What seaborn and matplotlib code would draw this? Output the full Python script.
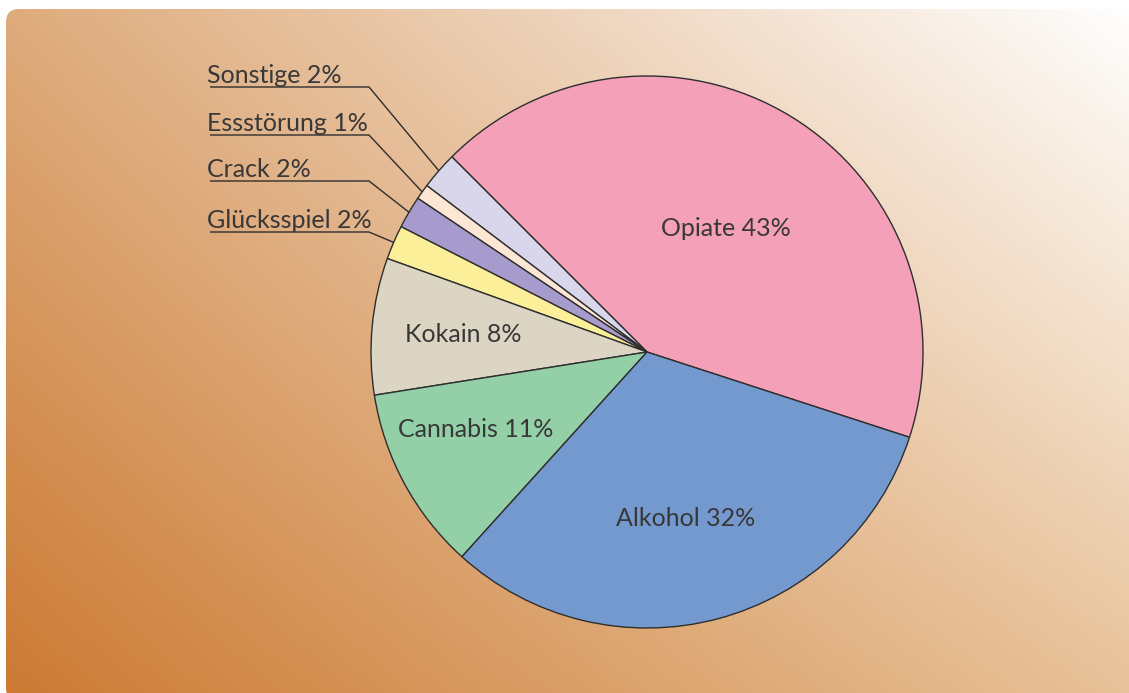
"""Suchtberatung: Hauptdiagnosen als Tortendiagramm."""
import matplotlib
matplotlib.use("Agg")
import matplotlib.pyplot as plt
from matplotlib.colors import to_rgb
from matplotlib.patches import FancyBboxPatch
import numpy as np
import seaborn as sns

# ── data ─────────────────────────────────────────────────────────────────────
categories = ["Opiate", "Sonstige", "Essstörung", "Crack",
              "Glücksspiel", "Kokain", "Cannabis", "Alkohol"]
shares     = [42.5, 2.2, 0.9, 1.9, 2.0, 8.0, 10.8, 31.7]   # slice sizes
shown_pct  = [43, 2, 1, 2, 2, 8, 11, 32]                    # printed labels
outside    = ["Sonstige", "Essstörung", "Crack", "Glücksspiel"]

# ── style ────────────────────────────────────────────────────────────────────
sns.set_style("white")
plt.rcParams["font.family"] = ["Lato", "DejaVu Sans"]

COLORS = ["#f4a0b8", "#d9d6ec", "#fde7d4", "#a79bcd",
          "#fbef9a", "#dcd5c3", "#93cfa7", "#7499cf"]
TEXT   = "#383838"
W, H   = 1129, 693
CX, CY, R = 647, H - 352, 276

# inside labels: fraction of radius + small angle shift
INSIDE_POS = {"Opiate": (0.53, -1), "Kokain": (0.67, 0),
              "Cannabis": (0.68, -4), "Alkohol": (0.62, -2)}

fig = plt.figure(figsize=(W / 100, H / 100), dpi=100)
fig.patch.set_facecolor("white")

# ── gradient background (bilinear between corner colours) ───────────────────
bg = fig.add_axes([0, 0, 1, 1])
bg.set_xlim(0, W); bg.set_ylim(0, H); bg.axis("off")
bl, tl, br, tr = (np.array(to_rgb(c)) for c in
                  ("#cc7a33", "#deab7c", "#e8c299", "#ffffff"))
u = np.linspace(0, 1, 300)[None, :, None]
v = np.linspace(1, 0, 200)[:, None, None]
grad = (1 - v) * ((1 - u) * bl + u * br) + v * ((1 - u) * tl + u * tr)
im = bg.imshow(grad, extent=(0, W, 0, H), aspect="auto",
               interpolation="bilinear", zorder=0)
card = FancyBboxPatch((6, -8), W + 20, H - 9 + 8,
                      boxstyle="round,pad=0,rounding_size=13",
                      transform=bg.transData, facecolor="none", edgecolor="none")
bg.add_patch(card)
im.set_clip_path(card)

# ── pie ──────────────────────────────────────────────────────────────────────
ax = fig.add_axes([0, 0, 1, 1])
ax.patch.set_alpha(0)
wedges, _ = ax.pie(shares, colors=COLORS, startangle=-18, counterclock=True,
                   center=(CX, CY), radius=R,
                   wedgeprops=dict(edgecolor="#2e2e2e", linewidth=1.0))
ax.set_xlim(0, W); ax.set_ylim(0, H)
ax.set_aspect("equal"); ax.axis("off")

FS = 18
ul_x0, ul_x1 = 210, 369
ul_y = {"Sonstige": 87, "Essstörung": 135, "Crack": 181, "Glücksspiel": 232}

for w, cat, pct in zip(wedges, categories, shown_pct):
    mid = np.deg2rad((w.theta1 + w.theta2) / 2)
    label = f"{cat} {pct}%"
    if cat in outside:
        y = H - ul_y[cat]
        ax.text(207, y + 4, label, ha="left", va="baseline",
                fontsize=FS, color=TEXT, fontweight="normal")
        ex, ey = CX + R * np.cos(mid), CY + R * np.sin(mid)
        ax.plot([ul_x0, ul_x1, ex], [y, y, ey], color="#2e2e2e", lw=1.0,
                solid_capstyle="butt")
    else:
        f, dth = INSIDE_POS[cat]
        a = mid + np.deg2rad(dth)
        ax.text(CX + f * R * np.cos(a), CY + f * R * np.sin(a), label,
                ha="center", va="center", fontsize=FS, color=TEXT,
                fontweight="normal")

fig.savefig("out.png", dpi=100)
plt.close(fig)
